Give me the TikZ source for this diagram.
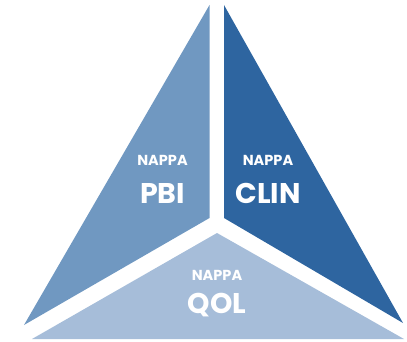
\documentclass[tikz,border=0pt]{standalone}
\usepackage{fontspec}
\setmainfont{Poppins}
\definecolor{pbicol}{HTML}{7098C1}
\definecolor{clincol}{HTML}{2E65A0}
\definecolor{qolcol}{HTML}{A6BDD9}
\tikzset{
  small/.style={text=white, font=\fontsize{14.5}{15}\selectfont\bfseries, inner sep=0pt, anchor=base},
  big/.style={text=white, font=\fontsize{28.5}{30}\selectfont\bfseries, inner sep=0pt, anchor=base}
}
\begin{document}
\begin{tikzpicture}[x=1pt,y=-1pt]
\useasboundingbox (0,0) rectangle (407,342);
\fill[pbicol] (209.5,5) -- (209.5,218) -- (24,325) -- cycle;
\fill[clincol] (224,5) -- (224,218) -- (403,323) -- cycle;
\fill[qolcol] (217,233) -- (404,339) -- (32,339) -- cycle;
\node[small] (n1) at (162.5,166) {NAPPA};
\node[big] (pbi) at (162.5,203) {PBI};
\node[small] (n2) at (268,166) {NAPPA};
\node[big] (clin) at (268,203) {CLIN};
\node[small] (n3) at (217,280) {NAPPA};
\node[big] (qol) at (217,313) {QOL};
\end{tikzpicture}
\end{document}
